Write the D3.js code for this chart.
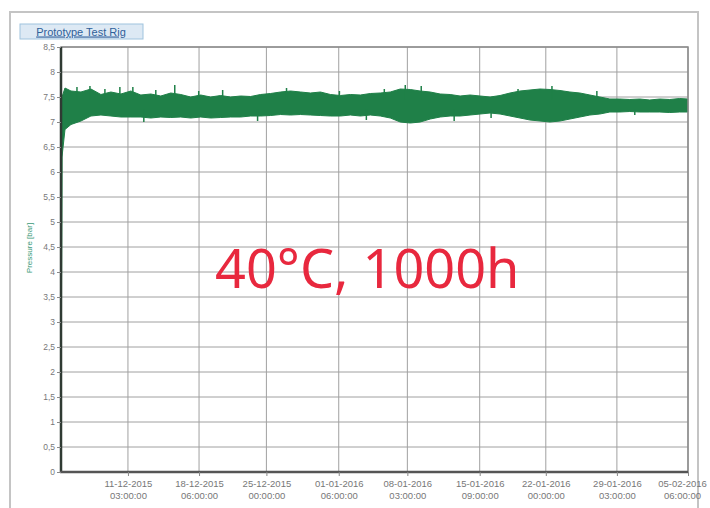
<!DOCTYPE html>
<html>
<head>
<meta charset="utf-8">
<script src="https://cdn.jsdelivr.net/npm/d3@7"></script>
<style>
  body { margin: 0; background: #fff; }
  svg { display: block; font-family: "Liberation Sans", Arial, sans-serif; }
</style>
</head>
<body>
<svg id="chart" width="710" height="508"></svg>
<script>
// time span of the recording
var startTime = "2015-12-04 10:00:00",
    endTime = "2016-02-05 06:00:00";

// weekly ticks on the x axis
var tickTimes = ["2015-12-11 03:00:00", "2015-12-18 06:00:00", "2015-12-25 00:00:00",
                 "2016-01-01 06:00:00", "2016-01-08 03:00:00", "2016-01-15 09:00:00",
                 "2016-01-22 00:00:00", "2016-01-29 03:00:00", "2016-02-05 06:00:00"];

var yTicks = [0, 0.5, 1, 1.5, 2, 2.5, 3, 3.5, 4, 4.5, 5, 5.5, 6, 6.5, 7, 7.5, 8, 8.5];

// pressure envelope (days after start, max, min) in bar
var days  = [0, 0.1, 0.4, 1, 2, 3, 4, 5, 6, 7, 8, 9, 10, 11, 12, 13, 14, 15, 16, 17, 18, 19, 20,
             21, 22, 23, 24, 25, 26, 27, 28, 29, 30, 31, 32, 33, 34, 35, 36, 37, 38, 39, 40,
             41, 42, 43, 44, 45, 46, 47, 48, 49, 50, 51, 52, 53, 54, 55, 56, 57, 58, 59, 60,
             61, 62, 62.8];
var upper = [0, 7.5, 7.68, 7.62, 7.6, 7.66, 7.55, 7.6, 7.56, 7.62, 7.54, 7.56, 7.52, 7.58, 7.55,
             7.5, 7.54, 7.5, 7.53, 7.5, 7.52, 7.51, 7.55, 7.57, 7.6, 7.62, 7.6, 7.58, 7.6, 7.55,
             7.53, 7.55, 7.54, 7.57, 7.58, 7.6, 7.66, 7.65, 7.62, 7.6, 7.56, 7.55, 7.52, 7.54,
             7.52, 7.5, 7.53, 7.58, 7.62, 7.64, 7.66, 7.65, 7.63, 7.6, 7.58, 7.54, 7.5, 7.46,
             7.46, 7.45, 7.46, 7.44, 7.46, 7.45, 7.47, 7.46];
var lower = [0, 6.3, 6.85, 6.95, 7.02, 7.12, 7.14, 7.12, 7.1, 7.1, 7.1, 7.08, 7.1, 7.09, 7.1,
             7.08, 7.1, 7.08, 7.09, 7.1, 7.1, 7.12, 7.12, 7.13, 7.15, 7.14, 7.15, 7.14, 7.13, 7.12,
             7.12, 7.14, 7.12, 7.14, 7.12, 7.08, 7.0, 6.98, 7.0, 7.06, 7.1, 7.12, 7.12, 7.14,
             7.16, 7.18, 7.16, 7.12, 7.08, 7.04, 7.02, 7.0, 7.02, 7.06, 7.1, 7.14, 7.16, 7.2,
             7.2, 7.21, 7.2, 7.2, 7.2, 7.19, 7.2, 7.2];

// isolated peaks above and dips below the band
var spikeDays = [1.6, 2.9, 4.4, 5.9, 7.2, 9.5, 11.4, 13.8, 16.2, 22.6, 27.9, 32.4, 34.5, 36.1, 45.8, 49.2, 53.7];
var spikeVals = [7.7, 7.72, 7.66, 7.7, 7.7, 7.64, 7.74, 7.62, 7.64, 7.68, 7.62, 7.66, 7.74, 7.72, 7.66, 7.72, 7.62];
var dipDays = [8.3, 19.7, 30.6, 39.4, 43.1, 57.5];
var dipVals = [7.0, 7.02, 7.04, 7.02, 7.08, 7.14];

var margin = { top: 47, right: 22, bottom: 36, left: 61 },
    width = 710 - margin.left - margin.right,
    height = 508 - margin.top - margin.bottom;

var parseTime = d3.timeParse("%Y-%m-%d %H:%M:%S");
var t0 = parseTime(startTime);
var dayToDate = function(d) { return new Date(t0.getTime() + d * 864e5); };

var svg = d3.select("#chart");

// outer frame
svg.append("rect")
    .attr("x", 10).attr("y", 12)
    .attr("width", 688).attr("height", 510)
    .style("fill", "none")
    .style("stroke", "#c4c4c4")
    .style("stroke-width", 2);

var g = svg.append("g")
    .attr("transform", "translate(" + margin.left + "," + margin.top + ")");

var x = d3.scaleTime().domain([t0, parseTime(endTime)]).range([0, width]);
var y = d3.scaleLinear().domain([0, 8.5]).range([height, 0]);

// gridlines
g.selectAll(".hgrid")
    .data(yTicks)
    .enter().append("line")
    .attr("class", "hgrid")
    .attr("x1", 0).attr("x2", width)
    .attr("y1", d => y(d)).attr("y2", d => y(d))
    .style("stroke", "#a0a0a0")
    .style("stroke-width", 1);

g.selectAll(".vgrid")
    .data(tickTimes.map(parseTime))
    .enter().append("line")
    .attr("class", "vgrid")
    .attr("x1", d => x(d)).attr("x2", d => x(d))
    .attr("y1", 0).attr("y2", height)
    .style("stroke", "#a0a0a0")
    .style("stroke-width", 1);

// pressure band
var series = days.map((d, i) => ({ t: dayToDate(d), hi: upper[i], lo: lower[i] }));

var area = d3.area()
    .x(d => x(d.t))
    .y0(d => y(d.lo))
    .y1(d => y(d.hi));

g.append("path")
    .datum(series)
    .attr("d", area)
    .style("fill", "#1f8048")
    .style("stroke", "#1f8048")
    .style("stroke-width", 1);

g.selectAll(".spike")
    .data(spikeDays.map((d, i) => ({ t: dayToDate(d), v: spikeVals[i] })))
    .enter().append("line")
    .attr("class", "spike")
    .attr("x1", d => x(d.t)).attr("x2", d => x(d.t))
    .attr("y1", y(7.45)).attr("y2", d => y(d.v))
    .style("stroke", "#1f8048")
    .style("stroke-width", 1.5);

g.selectAll(".dip")
    .data(dipDays.map((d, i) => ({ t: dayToDate(d), v: dipVals[i] })))
    .enter().append("line")
    .attr("class", "dip")
    .attr("x1", d => x(d.t)).attr("x2", d => x(d.t))
    .attr("y1", y(7.25)).attr("y2", d => y(d.v))
    .style("stroke", "#1f8048")
    .style("stroke-width", 1.5);

// plot border
g.append("rect")
    .attr("width", width).attr("height", height)
    .style("fill", "none")
    .style("stroke", "#8a8a8a")
    .style("stroke-width", 1.5);

g.append("line")
    .attr("x1", 0).attr("x2", 0).attr("y1", 0).attr("y2", height + 1)
    .style("stroke", "#2f3a33").style("stroke-width", 2.5);
g.append("line")
    .attr("x1", -1).attr("x2", width).attr("y1", height).attr("y2", height)
    .style("stroke", "#555").style("stroke-width", 2.5);

// y axis
var yAxis = g.append("g")
    .call(d3.axisLeft(y).tickValues(yTicks).tickSize(4)
        .tickFormat(d => String(d).replace(".", ",")));
yAxis.select(".domain").remove();
yAxis.selectAll("line").style("stroke", "#888");
yAxis.selectAll("text")
    .style("font-size", "8.5px")
    .style("fill", "#777")
    .attr("x", -6);

// x axis, two-line labels
var fmtDate = d3.timeFormat("%d-%m-%Y"),
    fmtTime = d3.timeFormat("%H:%M:%S");

var xAxis = g.append("g")
    .attr("transform", "translate(0," + height + ")")
    .call(d3.axisBottom(x).tickValues(tickTimes.map(parseTime)).tickSize(4).tickFormat(""));
xAxis.select(".domain").remove();
xAxis.selectAll("line").style("stroke", "#888");

var nTicks = tickTimes.length;
var xl = xAxis.selectAll(".tick").append("text")
    .attr("text-anchor", "middle")
    // last label would run past the page edge, nudge it in
    .attr("transform", (d, i) => i === nTicks - 1 ? "translate(-6,0)" : null)
    .style("font-size", "9.5px")
    .style("fill", "#777");
xl.append("tspan").attr("x", 0).attr("y", 15).text(d => fmtDate(d));
xl.append("tspan").attr("x", 0).attr("y", 27).text(d => fmtTime(d));

// y axis title
svg.append("text")
    .attr("transform", "translate(32,248) rotate(-90)")
    .attr("text-anchor", "middle")
    .style("font-size", "8px")
    .style("fill", "#3a9a78")
    .text("Pressure [bar]");

// legend tag
svg.append("rect")
    .attr("x", 20).attr("y", 24)
    .attr("width", 123).attr("height", 15)
    .style("fill", "#dde9f4")
    .style("stroke", "#9fc3de");
svg.append("text")
    .attr("x", 81).attr("y", 35.5)
    .attr("text-anchor", "middle")
    .style("font-size", "11px")
    .style("fill", "#2f5f9a")
    .style("text-decoration", "underline")
    .text("Prototype Test Rig");

// annotation
svg.append("text")
    .attr("x", 215).attr("y", 288)
    .style("font-family", "'Noto Sans', 'Open Sans', sans-serif")
    .style("font-size", "54px")
    .style("fill", "#e8283e")
    .text("40°C, 1000h");
</script>
</body>
</html>
